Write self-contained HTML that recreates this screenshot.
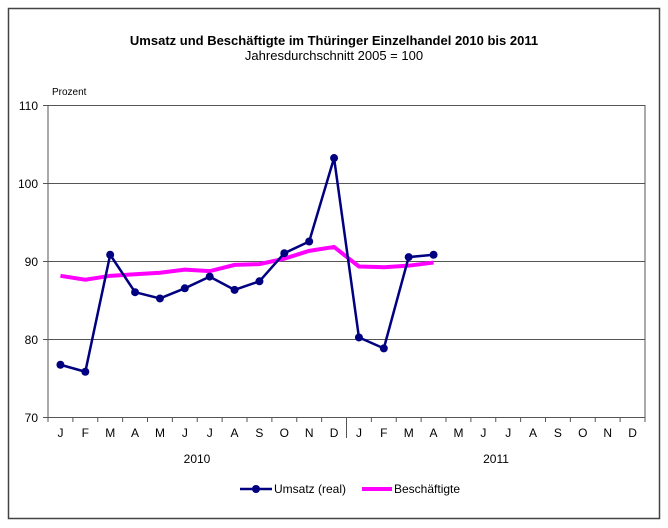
<!DOCTYPE html>
<html><head><meta charset="utf-8"><style>body{margin:0;background:#fff}svg{display:block}text{font-family:"Liberation Sans",Arial,sans-serif}</style></head><body>
<svg width="668" height="528" xmlns="http://www.w3.org/2000/svg">
<rect x="8.5" y="8.5" width="651" height="510" fill="#fff" stroke="#444" stroke-width="1.5"/>
<text x="334" y="45" font-size="13" font-weight="bold" text-anchor="middle">Umsatz und Beschäftigte im Thüringer Einzelhandel 2010 bis 2011</text>
<text x="334" y="60" font-size="13" text-anchor="middle">Jahresdurchschnitt 2005 = 100</text>
<text x="52" y="95" font-size="10">Prozent</text>
<g stroke="#555" stroke-width="1">
<line x1="48" y1="105.5" x2="645" y2="105.5"/><line x1="48" y1="183.5" x2="645" y2="183.5"/><line x1="48" y1="261.5" x2="645" y2="261.5"/><line x1="48" y1="339.5" x2="645" y2="339.5"/>
<line x1="48" y1="105" x2="48" y2="417"/><line x1="645" y1="105" x2="645" y2="417"/><line x1="43" y1="417.5" x2="645" y2="417.5"/>
<line x1="43" y1="105.5" x2="48" y2="105.5"/><line x1="43" y1="183.5" x2="48" y2="183.5"/><line x1="43" y1="261.5" x2="48" y2="261.5"/><line x1="43" y1="339.5" x2="48" y2="339.5"/>
<line x1="346.5" y1="417" x2="346.5" y2="438"/>
</g>
<g font-size="12" text-anchor="end"><text x="38" y="110">110</text><text x="38" y="188">100</text><text x="38" y="266">90</text><text x="38" y="344">80</text><text x="38" y="422">70</text></g>
<g id="ticks" stroke="#555"></g>
<g id="lab" font-size="12" text-anchor="middle"></g>
<text x="197" y="463" font-size="12" text-anchor="middle">2010</text>
<text x="496" y="463" font-size="12" text-anchor="middle">2011</text>
<polyline id="b" fill="none" stroke="#ff00ff" stroke-width="4"/>
<polyline id="u" fill="none" stroke="#000080" stroke-width="2.5"/>
<g id="dots" fill="#000080"></g>
<line x1="240" y1="489" x2="272" y2="489" stroke="#000080" stroke-width="2.5"/><circle cx="256" cy="489" r="4" fill="#000080"/>
<text x="274" y="493" font-size="12">Umsatz (real)</text>
<line x1="362" y1="489" x2="392" y2="489" stroke="#ff00ff" stroke-width="4"/>
<text x="394" y="493" font-size="12">Beschäftigte</text>
</svg>
<script>
var u=[76.7,75.8,90.8,86,85.2,86.5,88,86.3,87.4,91,92.5,103.2,80.2,78.8,90.5,90.8];
var b=[88.1,87.6,88.1,88.3,88.5,88.9,88.7,89.5,89.6,90.3,91.3,91.8,89.3,89.2,89.4,89.8];
var m="JFMAMJJASOND";var ns="http://www.w3.org/2000/svg";
function X(i){return 48+24.875*(i+0.5)}function Y(v){return 417-(v-70)*7.8}
var t=document.getElementById('ticks'),l=document.getElementById('lab'),d=document.getElementById('dots');
for(var i=0;i<=24;i++){var e=document.createElementNS(ns,'line');var x=48+24.875*i;e.setAttribute('x1',x);e.setAttribute('x2',x);e.setAttribute('y1',417);e.setAttribute('y2',422);t.appendChild(e);}
for(var i=0;i<24;i++){var e=document.createElementNS(ns,'text');e.setAttribute('x',X(i));e.setAttribute('y',437);e.textContent=m[i%12];l.appendChild(e);}
document.getElementById('u').setAttribute('points',u.map(function(v,i){return X(i)+','+Y(v)}).join(' '));
document.getElementById('b').setAttribute('points',b.map(function(v,i){return X(i)+','+Y(v)}).join(' '));
u.forEach(function(v,i){var c=document.createElementNS(ns,'circle');c.setAttribute('cx',X(i));c.setAttribute('cy',Y(v));c.setAttribute('r',4);d.appendChild(c);});
</script>
</body></html>
